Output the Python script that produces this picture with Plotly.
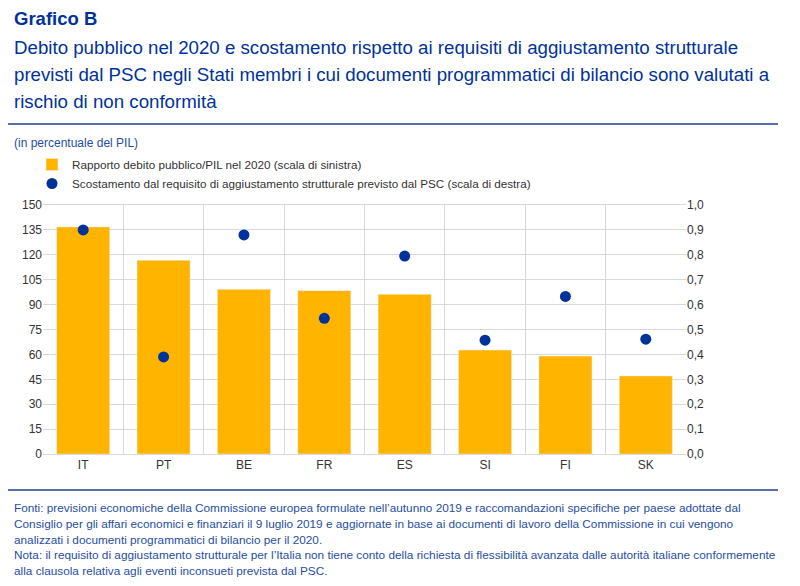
import plotly.graph_objects as go

countries = ["IT", "PT", "BE", "FR", "ES", "SI", "FI", "SK"]
debt_ratio = [136.8, 116.7, 99.2, 98.4, 96.2, 62.6, 59.0, 47.0]
deviation = [0.90, 0.39, 0.88, 0.545, 0.795, 0.457, 0.633, 0.461]
left_ticks = [0, 15, 30, 45, 60, 75, 90, 105, 120, 135, 150]
right_ticks = [0, 0.1, 0.2, 0.3, 0.4, 0.5, 0.6, 0.7, 0.8, 0.9, 1.0]

BLUE = "#003299"
TEXTBLUE = "#1f4e9f"
FONT = "Liberation Sans, Arial, sans-serif"

fig = go.Figure()
fig.add_trace(go.Bar(
    x=countries, y=debt_ratio, marker_color="#FFB400", width=0.66,
    name="Rapporto debito pubblico/PIL nel 2020 (scala di sinistra)"))
fig.add_trace(go.Scatter(
    x=countries, y=deviation, mode="markers", yaxis="y2",
    marker=dict(color=BLUE, size=11),
    name="Scostamento dal requisito di aggiustamento strutturale previsto dal PSC (scala di destra)"))

W, HT = 800, 586
def cx(xpx):
    return xpx / W
def cy(ypx):
    return 1 - ypx / HT

anns = []
def add_text(text, x, y, size, color):
    anns.append(dict(text=text, xref="paper", yref="paper", x=x, y=y,
                     xanchor="left", yanchor="middle", showarrow=False,
                     font=dict(family=FONT, size=size, color=color)))

L, R, T, B = 43, 686, 205, 454
def px(xpx):
    return (xpx - L) / (R - L)
def py(ypx):
    return (B - ypx) / (B - T)

add_text("<b>Grafico B</b>", px(12), py(18), 18.5, BLUE)
subtitle = [
    "Debito pubblico nel 2020 e scostamento rispetto ai requisiti di aggiustamento strutturale",
    "previsti dal PSC negli Stati membri i cui documenti programmatici di bilancio sono valutati a",
    "rischio di non conformità",
]
for i, s in enumerate(subtitle):
    add_text(s, px(12), py(47 + 27.5 * i), 18.7, BLUE)
add_text("(in percentuale del PIL)", px(12), py(143), 12, TEXTBLUE)
foot = [
    "Fonti: previsioni economiche della Commissione europea formulate nell’autunno 2019 e raccomandazioni specifiche per paese adottate dal",
    "Consiglio per gli affari economici e finanziari il 9 luglio 2019 e aggiornate in base ai documenti di lavoro della Commissione in cui vengono",
    "analizzati i documenti programmatici di bilancio per il 2020.",
    "Nota: il requisito di aggiustamento strutturale per l’Italia non tiene conto della richiesta di flessibilità avanzata dalle autorità italiane conformemente",
    "alla clausola relativa agli eventi inconsueti prevista dal PSC.",
]
for i, s in enumerate(foot):
    add_text(s, px(12), py(508 + 15.8 * i), 11.8, TEXTBLUE)

shapes = [
    dict(type="line", xref="paper", yref="paper", x0=px(8), x1=px(778),
         y0=py(124), y1=py(124), line=dict(color="#1f3f8f", width=1.5)),
    dict(type="line", xref="paper", yref="paper", x0=px(8), x1=px(778),
         y0=py(490), y1=py(490), line=dict(color="#1f3f8f", width=1.5)),
]

fig.update_layout(
    width=W, height=HT,
    margin=dict(l=L, r=W - R, t=T, b=HT - B, autoexpand=False),
    paper_bgcolor="white", plot_bgcolor="white",
    separators=",.",
    font=dict(family=FONT, size=12, color="#333333"),
    showlegend=True,
    legend=dict(xref="container", yref="container", x=cx(32), y=cy(150),
                xanchor="left", yanchor="top",
                font=dict(family=FONT, size=11.7, color="#333333"),
                bgcolor="rgba(0,0,0,0)", tracegroupgap=0, itemwidth=30),
    xaxis=dict(type="category", tickson="boundaries", showgrid=True, gridcolor="#d9d9d9",
               ticks="", showline=True, linecolor="#d9d9d9", mirror=True,
               tickfont=dict(size=12, color="#333333")),
    yaxis=dict(range=[0, 150], tickvals=left_ticks, showgrid=True, gridcolor="#d9d9d9",
               zeroline=False, showline=False, ticks="", tickfont=dict(size=12, color="#333333")),
    yaxis2=dict(range=[0, 1], tickvals=right_ticks, tickformat=".1f", overlaying="y", side="right",
                showgrid=False, zeroline=False, ticks="", tickfont=dict(size=12, color="#333333")),
    annotations=anns, shapes=shapes,
)

fig.write_html("out.html", config={"displayModeBar": False},
               post_script="document.body.style.margin='0';document.body.style.overflow='hidden';")
